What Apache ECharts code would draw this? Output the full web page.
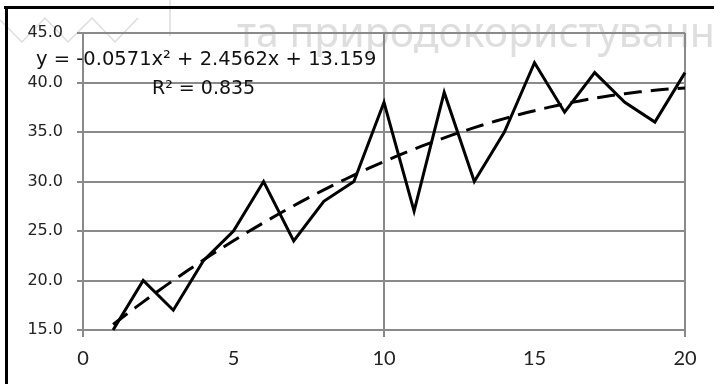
<!DOCTYPE html>
<html>
<head>
<meta charset="utf-8">
<script src="https://cdn.jsdelivr.net/npm/echarts@6/dist/echarts.min.js"></script>
<style>
  html, body { margin: 0; padding: 0; background: #fff; }
  #chart { width: 714px; height: 384px; }
</style>
</head>
<body>
<div id="chart"></div>
<script>
// Observed values, one per step
const xValues = [1, 2, 3, 4, 5, 6, 7, 8, 9, 10, 11, 12, 13, 14, 15, 16, 17, 18, 19, 20];
const yValues = [15, 20, 17, 22, 25, 30, 24, 28, 30, 38, 27, 39, 30, 35, 42, 37, 41, 38, 36, 41];

// Polynomial trend (order 2) coefficients: a*x^2 + b*x + c
const trendCoefs = [-0.0571, 2.4562, 13.159];
const trendR2 = 0.835;

// Axis ranges
const xTicks = [0, 5, 10, 15, 20];
const yTicks = [15, 20, 25, 30, 35, 40, 45];

const observed = xValues.map((x, i) => [x, yValues[i]]);

const trend = [];
for (let x = xValues[0]; x <= xValues[xValues.length - 1] + 1e-9; x += 0.25) {
  trend.push([x, trendCoefs[0] * x * x + trendCoefs[1] * x + trendCoefs[2]]);
}

const fmt = (v, d) => Math.abs(v).toFixed(d);
const eqText = 'y = ' + (trendCoefs[0] < 0 ? '-' : '') + fmt(trendCoefs[0], 4) + 'x\u00B2 + ' +
  fmt(trendCoefs[1], 4) + 'x + ' + fmt(trendCoefs[2], 3);
const r2Text = 'R\u00B2 = ' + trendR2.toFixed(3);

const gridGray = '#8a8a8a';
const chart = echarts.init(document.getElementById('chart'), null, { renderer: 'canvas' });

chart.setOption({
  animation: false,
  backgroundColor: '#fff',
  grid: { left: 83, right: 29, top: 33, bottom: 54, containLabel: false },
  xAxis: [
    {
      type: 'value', min: xTicks[0], max: xTicks[xTicks.length - 1], interval: 5,
      axisLine: { show: true, lineStyle: { color: gridGray, width: 2 } },
      axisTick: { show: false },
      splitLine: { show: false },
      axisLabel: { color: '#222', fontFamily: 'Lato', fontSize: 20, margin: 19 }
    },
    {
      type: 'value', min: xTicks[0], max: xTicks[xTicks.length - 1], interval: 10,
      position: 'bottom',
      axisLine: { show: false },
      axisTick: { show: true, length: 7, lineStyle: { color: gridGray, width: 2 } },
      splitLine: { show: true, lineStyle: { color: gridGray, width: 2 } },
      axisLabel: { show: false }
    }
  ],
  yAxis: {
    type: 'value', min: yTicks[0], max: yTicks[yTicks.length - 1], interval: 5,
    axisLine: { show: true, lineStyle: { color: gridGray, width: 2 } },
    axisTick: { show: true, length: 6, lineStyle: { color: gridGray, width: 2 } },
    splitLine: { show: true, lineStyle: { color: gridGray, width: 2 } },
    axisLabel: {
      color: '#222', fontFamily: 'DejaVu Sans', fontSize: 16, margin: 20,
      formatter: v => v.toFixed(1)
    }
  },
  graphic: [
    { type: 'text', left: 237, top: 15, z: -10, silent: true,
      style: { text: 'та природокористування', font: '41px "Noto Sans"', fill: '#dedede' } },
    { type: 'polyline', z: -10, silent: true,
      shape: { points: [[0, 20], [22, 42], [45, 18], [68, 42], [92, 18], [115, 42], [138, 18]] },
      style: { stroke: '#dddddd', lineWidth: 1.5, fill: null } },
    { type: 'line', z: -10, silent: true,
      shape: { x1: 170, y1: 0, x2: 170, y2: 36 }, style: { stroke: '#dddddd', lineWidth: 1.5 } },
    { type: 'line', z: 100, shape: { x1: 4, y1: 7.5, x2: 714, y2: 7.5 }, style: { stroke: '#000', lineWidth: 3 } },
    { type: 'line', z: 100, shape: { x1: 6.5, y1: 6, x2: 6.5, y2: 384 }, style: { stroke: '#000', lineWidth: 3 } },
    { type: 'text', left: 36, top: 50, z: 50,
      style: { text: eqText, font: '19.5px "DejaVu Sans"', fill: '#111' } },
    { type: 'text', left: 152, top: 80, z: 50,
      style: { text: r2Text, font: '19px "DejaVu Sans"', fill: '#111' } }
  ],
  series: [
    {
      type: 'line', xAxisIndex: 0, data: observed, showSymbol: false, symbol: 'none',
      lineStyle: { color: '#000', width: 3, join: 'miter' }, z: 5
    },
    {
      type: 'line', xAxisIndex: 0, data: trend, showSymbol: false, symbol: 'none',
      lineStyle: { color: '#000', width: 3, type: [18, 9] }, z: 6
    }
  ]
});
</script>
</body>
</html>
